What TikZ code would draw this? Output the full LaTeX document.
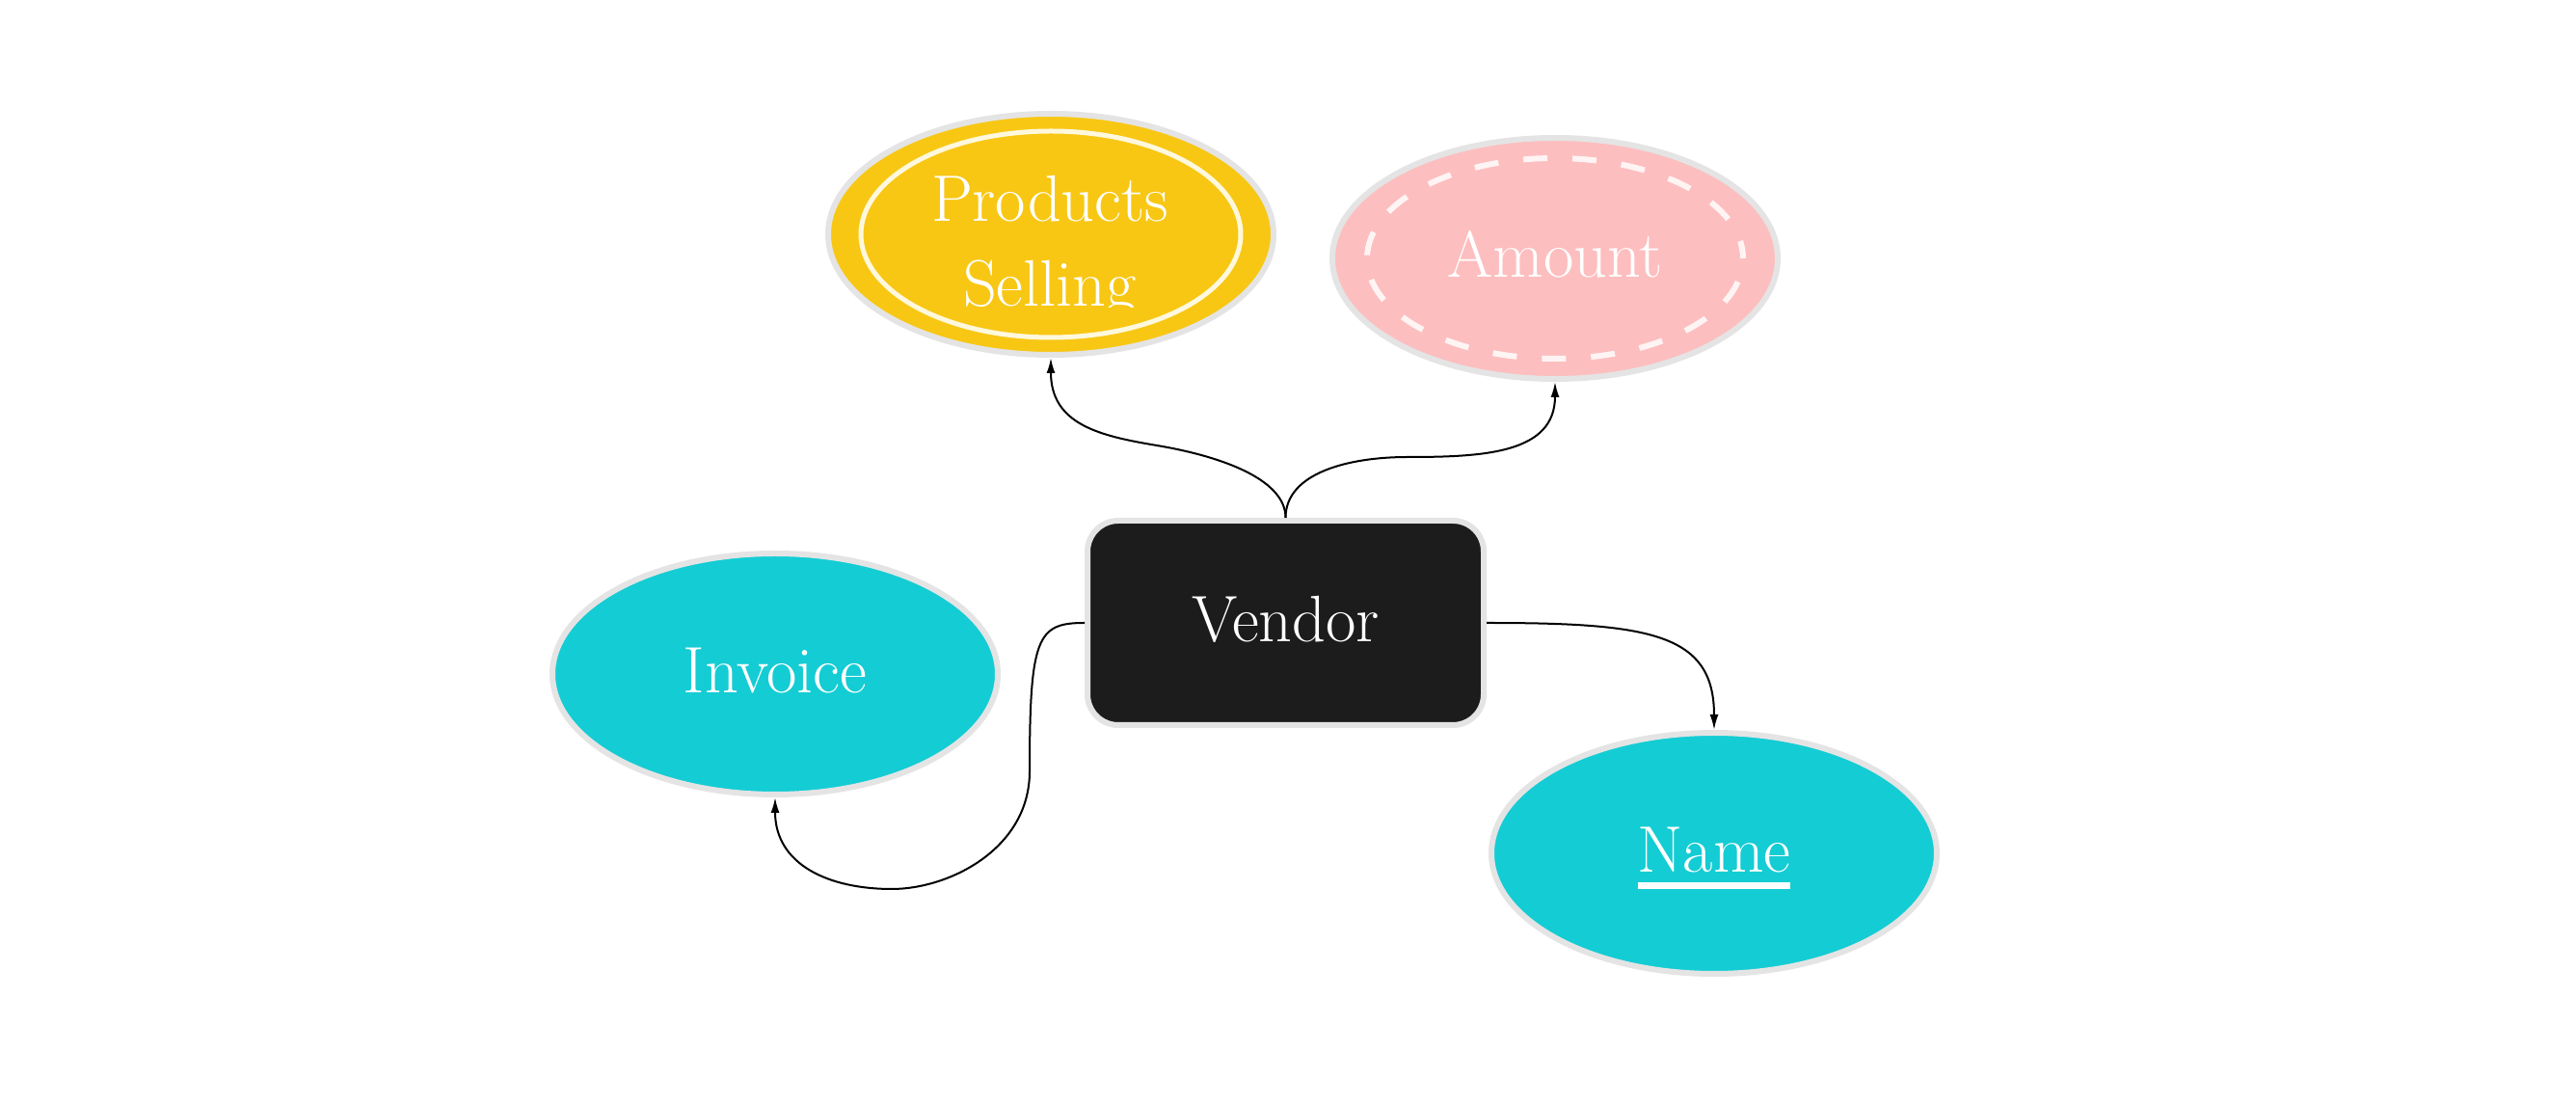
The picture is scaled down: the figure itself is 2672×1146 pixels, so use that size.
\documentclass[tikz,border=0pt]{standalone}
\usepackage{fontspec}
\usepackage{graphicx}
\usetikzlibrary{shapes.geometric,arrows.meta}
\definecolor{ygold}{HTML}{F8C714}
\definecolor{pinkc}{HTML}{FDBEBF}
\definecolor{cyanc}{HTML}{14CCD4}
\definecolor{darkc}{HTML}{1C1C1C}
\definecolor{rimc}{HTML}{E4E4E4}
\definecolor{creamc}{HTML}{FFF8DC}
\definecolor{dashc}{HTML}{FFF4F4}
\newcommand{\ulname}[1]{\setbox0\hbox{#1}\rlap{\rule[-1.8mm]{\wd0}{0.7mm}}\box0}
\begin{document}
\begin{tikzpicture}[x=0.1mm,y=-0.1mm,
  lbl/.style={text=white, font=\fontsize{19.4pt}{23pt}\selectfont, text height=3.9mm, text depth=0pt, inner sep=0pt},
  attr/.style={ellipse, draw=rimc, line width=0.6mm, minimum width=46.2mm, minimum height=25mm, lbl},
  entity/.style={rectangle, rounded corners=3.2mm, draw=rimc, fill=darkc, line width=0.6mm, minimum width=41.1mm, minimum height=21.2mm, lbl},
  link/.style={line width=0.2mm, draw=black, -{Latex[length=1.6mm,width=0.9mm]}}]
\fill[white] (0,0) rectangle (2672,1146);
\useasboundingbox (0,0) rectangle (2672,1146);

% Products Selling (multivalued)
\node[attr, fill=ygold] (products) at (1090,243) {};
\draw[creamc, line width=0.5mm] (products.center) ellipse [x radius=197, y radius=107];
\begin{scope}
  \clip (820,100) rectangle (1360,319);
  \node[lbl, anchor=base] (ptop) at (1089,230) {Products};
  \node[lbl, anchor=base] (pbot) at (1089,318) {Selling};
\end{scope}

% Amount (derived)
\node[attr, fill=pinkc] (amount) at (1613,268) {Amount};
\draw[dashc, line width=0.6mm, dash pattern=on 2.5mm off 2.6mm, dash phase=2.6mm]
  (amount.center) ellipse [x radius=195, y radius=104];

% Vendor entity
\node[entity] (vendor) at (1333.5,646) {Vendor};

% Invoice
\node[attr, fill=cyanc] (invoice) at (804,699) {Invoice};

% Name (key)
\node[attr, fill=cyanc] (name) at (1778,885) {\ulname{Name}};

% connectors
\coordinate (pmid) at (1200,462);
\coordinate (amid) at (1460,474);
\coordinate (bend) at (1068,800);
\coordinate (ibot) at (925,922);
\draw[link] (vendor.north) .. controls +(0,-42) and +(60,10) .. (pmid)
  .. controls +(-60,-10) and +(0,69) .. (products.south);
\draw[link] (vendor.north) .. controls +(0,-47) and +(-60,0) .. (amid)
  .. controls +(80,0) and +(0,74) .. (amount.south);
\draw[link] (vendor.east) .. controls +(170,0) and +(0,-100) .. (name.north);
\draw[link] (vendor.west) .. controls +(-49,0) and +(0,-140) .. (bend)
  .. controls +(0,80) and +(60,0) .. (ibot)
  .. controls +(-65,0) and +(0,70) .. (invoice.south);
\end{tikzpicture}
\end{document}
